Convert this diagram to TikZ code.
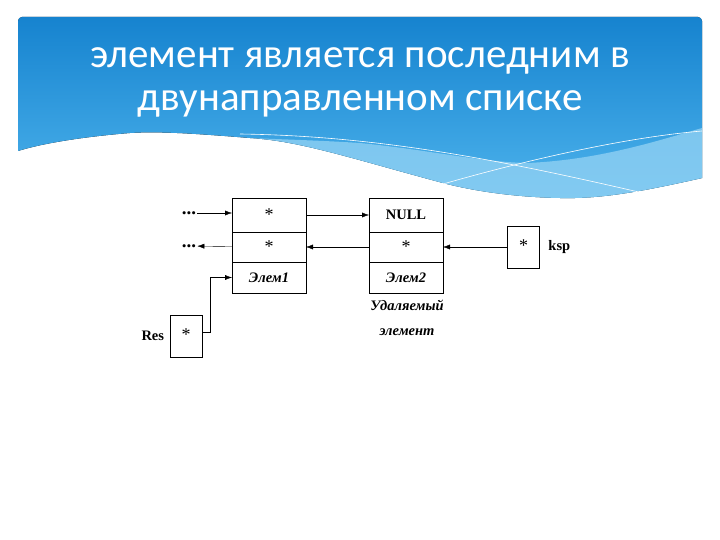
\documentclass[tikz,border=0pt]{standalone}
\usepackage{fontspec}
\setmainfont{Liberation Serif}
\newfontfamily\titlefont{Carlito}
\usetikzlibrary{arrows.meta, positioning, calc}
\definecolor{slidetop}{HTML}{1683CF}
\definecolor{slidebot}{HTML}{4DB3EC}
\definecolor{waveband}{HTML}{8FD0F3}
\newcommand{\ptrstar}{{\fontsize{18}{18}\selectfont *}}

\begin{document}
\begin{tikzpicture}[x=1pt, y=-1pt, >={Latex[length=7pt,width=5pt]},
      font=\fontsize{14.5}{16}\selectfont,
      cell/.style={draw, line width=0.8pt, minimum width=74pt, inner sep=0pt,
                   outer sep=0pt, align=center},
      ptrbox/.style={draw, line width=0.8pt, minimum width=32pt,
                     minimum height=42pt, inner sep=0pt},
      titletext/.style={text=white, font=\titlefont\fontsize{41}{44}\selectfont,
                        anchor=base},
      bold/.style={font=\fontsize{14.5}{16}\selectfont\bfseries},
      dots/.style={font=\fontsize{19}{19}\selectfont\bfseries, inner sep=1pt},
      lbl/.style={font=\fontsize{14.5}{16}\selectfont\bfseries\itshape}]
    \useasboundingbox (0,0) rectangle (720,540);
    % slide header
    \fill[top color=slidetop, bottom color=slidebot]
      (18,151) [rounded corners=4pt] -- (18,17) -- (702,17) [sharp corners] -- (702,178)
      .. controls (640,192) and (600,199) .. (560,198)
      .. controls (510,197) and (470,190) .. (443,183)
      .. controls (350,158) and (300,141) .. (250,138)
      .. controls (200,134) and (160,131) .. (130,133)
      .. controls (80,137) and (40,144) .. (18,151) -- cycle;
    \fill[waveband, opacity=0.8]
      (250,138) .. controls (300,140) and (330,141) .. (360,143)
      .. controls (430,150) and (480,162) .. (527,163)
      .. controls (600,160) and (660,140) .. (702,128) -- (702,178)
      .. controls (640,192) and (600,199) .. (560,198)
      .. controls (510,197) and (470,190) .. (443,183)
      .. controls (350,158) and (300,141) .. (250,138) -- cycle;
    \draw[white, line width=0.6pt] (240,134) .. controls (380,136) and (500,160) .. (643,193);
    \draw[white, line width=0.6pt] (443,184) .. controls (520,162) and (620,138) .. (702,131);
    \node[titletext] (title1) at (360,68) {элемент является последним в};
    \node[titletext] (title2) at (360,111) {двунаправленном списке};

    % list elements
    \node[cell, minimum height=34pt] (e1a) at (269,215) {\ptrstar};
    \node[cell, minimum height=30pt, below=0pt of e1a] (e1b) {\ptrstar};
    \node[cell, minimum height=31pt, below=0pt of e1b] (e1c) {\textbf{\textit{Элем1}}};
    \node[cell, minimum height=34pt] (e2a) at (406,215) {\textbf{NULL}};
    \node[cell, minimum height=30pt, below=0pt of e2a] (e2b) {\ptrstar};
    \node[cell, minimum height=31pt, below=0pt of e2b] (e2c) {\textbf{\textit{Элем2}}};

    \node[dots] (dl1) at (189,213) {...};
    \node[dots] (dl2) at (189,246) {...};

    \node[ptrbox] (kspbox) at (523.5,247) {\raisebox{3pt}{\ptrstar}};
    \node[bold, right=5pt of kspbox] (ksplbl) {ksp};
    \draw[line width=1.6pt] (kspbox.south west) -- (kspbox.south east);

    \node[ptrbox] (resbox) at (186,336) {\raisebox{3pt}{\ptrstar}};
    \node[bold, left=2pt of resbox] (reslbl) {Res};
    \coordinate (resbend) at (210,277.5);

    \draw[->] (dl1) -- (dl1 -| e1a.west);
    \draw[->] (e1b) -- (dl2);
    \draw[->] (e1a) -- (e2a);
    \draw[->] (e2b) -- (e1b);
    \draw[->] (kspbox) -- (e2b);
    \draw[->] ([yshift=4pt]resbox.east) -| (resbend) -- (e1c);

    \node[lbl] (dellbl1) at (407,305) {Удаляемый};
    \node[lbl] (dellbl2) at (407,332) {элемент};
  \end{tikzpicture}
\end{document}
